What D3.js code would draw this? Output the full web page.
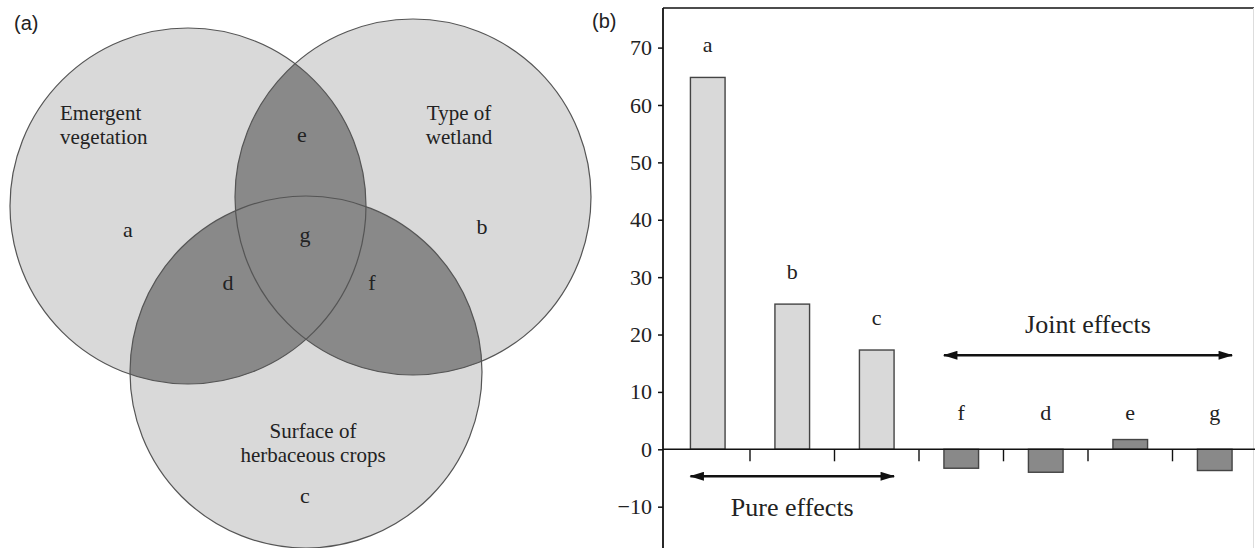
<!DOCTYPE html>
<html lang="en">
<head>
<meta charset="UTF-8">
<title>Variation partitioning</title>
<script src="https://d3js.org/d3.v7.min.js"></script>
<style>
  body { margin: 0; background: #fff; }
  svg { display: block; }
  text { font-family: "Liberation Serif", "Times New Roman", serif; fill: #222; }
</style>
</head>
<body>
<div id="chart"></div>
<script>
    const width = 1255;
    const height = 548;

    // panel (a): Venn sets and fraction labels
    const setNames = ["Emergent vegetation", "Type of wetland", "Surface of herbaceous crops"];
    const setLines = [["Emergent", "vegetation"], ["Type of", "wetland"], ["Surface of", "herbaceous crops"]];
    const fractionNames = ["a", "b", "c", "d", "e", "f", "g"];

    // panel (b): fractions of explained variation (%)
    const categories = ["a", "b", "c", "f", "d", "e", "g"];
    const values = [64.8, 25.3, 17.3, -3.3, -4.0, 1.7, -3.7];
    const groups = ["pure", "pure", "pure", "joint", "joint", "joint", "joint"];
    const yTicks = [-10, 0, 10, 20, 30, 40, 50, 60, 70];
    const groupLabels = ["Pure effects", "Joint effects"];

    const light = "#d9d9d9";
    const dark = "#898989";
    const edge = "#555";

    const svg = d3.select("#chart")
        .append("svg")
        .attr("width", width)
        .attr("height", height);

    const defs = svg.append("defs");
    defs.append("marker")
        .attr("id", "head")
        .attr("viewBox", "0 0 16 10")
        .attr("refX", 15)
        .attr("refY", 5)
        .attr("markerWidth", 16)
        .attr("markerHeight", 9)
        .attr("markerUnits", "userSpaceOnUse")
        .attr("orient", "auto-start-reverse")
        .append("path")
        .attr("d", "M0,0L16,5L0,10Z")
        .attr("fill", "#111");

    // ---------- (a) Venn diagram ----------
    const circles = [
        {cx: 188, cy: 206, r: 178},
        {cx: 413, cy: 197, r: 178},
        {cx: 306, cy: 372, r: 176}
    ];

    const venn = svg.append("g");

    circles.forEach((c, i) => {
        defs.append("clipPath").attr("id", "clip" + i)
            .append("circle").attr("cx", c.cx).attr("cy", c.cy).attr("r", c.r);
    });

    venn.selectAll("circle.base")
        .data(circles)
        .enter()
        .append("circle")
        .attr("class", "base")
        .attr("cx", d => d.cx)
        .attr("cy", d => d.cy)
        .attr("r", d => d.r)
        .attr("fill", light);

    const pairs = [[0, 1], [0, 2], [1, 2]];
    venn.selectAll("circle.overlap")
        .data(pairs)
        .enter()
        .append("circle")
        .attr("class", "overlap")
        .attr("cx", p => circles[p[0]].cx)
        .attr("cy", p => circles[p[0]].cy)
        .attr("r", p => circles[p[0]].r)
        .attr("clip-path", p => "url(#clip" + p[1] + ")")
        .attr("fill", dark);

    venn.selectAll("circle.edge")
        .data(circles)
        .enter()
        .append("circle")
        .attr("class", "edge")
        .attr("cx", d => d.cx)
        .attr("cy", d => d.cy)
        .attr("r", d => d.r)
        .attr("fill", "none")
        .attr("stroke", edge)
        .attr("stroke-width", 1.2);

    // set names, one text per line
    const nameSpots = [
        {x: 60, y: 120, anchor: "start"},
        {x: 459, y: 120, anchor: "middle"},
        {x: 313, y: 438, anchor: "middle"}
    ];
    const nameLines = [];
    setLines.forEach((lines, i) => lines.forEach((line, j) => nameLines.push({line, i, j})));
    venn.selectAll("text.setname")
        .data(nameLines)
        .enter()
        .append("text")
        .attr("class", "setname")
        .attr("x", d => nameSpots[d.i].x)
        .attr("y", d => nameSpots[d.i].y + d.j * 23.5)
        .attr("text-anchor", d => nameSpots[d.i].anchor)
        .style("font-size", "21px")
        .text(d => d.line);

    const fracSpots = {
        a: [128, 237], b: [482, 234], c: [305, 503], d: [228, 290],
        e: [302, 142], f: [372, 290], g: [305, 242]
    };
    venn.selectAll("text.frac")
        .data(fractionNames)
        .enter()
        .append("text")
        .attr("class", "frac")
        .attr("x", d => fracSpots[d][0])
        .attr("y", d => fracSpots[d][1])
        .attr("text-anchor", "middle")
        .style("font-size", "22px")
        .text(d => d);

    svg.append("text")
        .attr("x", 14)
        .attr("y", 30)
        .style("font-family", "'Liberation Sans', Arial, sans-serif")
        .style("font-size", "20px")
        .text("(a)");

    // ---------- (b) bar chart ----------
    const axisX = 663;
    const plotTop = 8;

    const x = d3.scaleBand()
        .domain(categories)
        .range([665.5, 1257])
        .padding(0);

    const y = d3.scaleLinear()
        .domain([-17.2, 76.9])
        .range([height, plotTop]);

    const barW = x.bandwidth() * 0.41;
    const bx = d => x(d) + (x.bandwidth() - barW) / 2;

    const chart = svg.append("g");

    // frame
    chart.append("line")
        .attr("x1", axisX).attr("x2", width - 1)
        .attr("y1", plotTop).attr("y2", plotTop)
        .attr("stroke", "#111").attr("stroke-width", 1.5);
    chart.append("line")
        .attr("x1", width - 1.5).attr("x2", width - 1.5)
        .attr("y1", plotTop).attr("y2", height)
        .attr("stroke", "#ddd").attr("stroke-width", 1);

    const rows = categories.map((c, i) => ({cat: c, v: values[i], group: groups[i]}));

    chart.selectAll("rect.bar")
        .data(rows)
        .enter()
        .append("rect")
        .attr("class", "bar")
        .attr("x", d => bx(d.cat))
        .attr("y", d => y(Math.max(0, d.v)))
        .attr("width", barW)
        .attr("height", d => Math.abs(y(d.v) - y(0)))
        .attr("fill", d => d.group === "pure" ? light : dark)
        .attr("stroke", "#444")
        .attr("stroke-width", 1.4);

    chart.selectAll("text.barlabel")
        .data(rows)
        .enter()
        .append("text")
        .attr("class", "barlabel")
        .attr("x", d => x(d.cat) + x.bandwidth() / 2)
        .attr("y", d => d.group === "pure" ? y(d.v) - 25 : y(0) - 29)
        .attr("text-anchor", "middle")
        .style("font-size", "22px")
        .text(d => d.cat);

    // y axis
    const yAxis = d3.axisLeft(y)
        .tickValues(yTicks)
        .tickSize(5)
        .tickPadding(6)
        .tickFormat(d => d < 0 ? "\u2212" + Math.abs(d) : d);
    const yg = chart.append("g")
        .attr("transform", `translate(${axisX},0)`)
        .call(yAxis);
    yg.select(".domain").remove();
    yg.selectAll("line").attr("stroke", "#111").attr("stroke-width", 1.5);
    yg.selectAll("text")
        .style("font-family", "'Liberation Serif', 'Times New Roman', serif")
        .style("font-size", "22px")
        .attr("fill", "#222");
    chart.append("line")
        .attr("x1", axisX).attr("x2", axisX)
        .attr("y1", plotTop).attr("y2", height)
        .attr("stroke", "#111").attr("stroke-width", 1.8);

    // x axis at zero, ticks between categories
    chart.append("line")
        .attr("x1", axisX).attr("x2", width)
        .attr("y1", y(0)).attr("y2", y(0))
        .attr("stroke", "#111").attr("stroke-width", 1.6);
    chart.selectAll("line.sep")
        .data(categories.slice(1))
        .enter()
        .append("line")
        .attr("class", "sep")
        .attr("x1", d => x(d)).attr("x2", d => x(d))
        .attr("y1", y(0)).attr("y2", y(0) + 12)
        .attr("stroke", "#111").attr("stroke-width", 1.4);

    // group arrows
    const pureCats = categories.filter((c, i) => groups[i] === "pure");
    const jointCats = categories.filter((c, i) => groups[i] === "joint");
    const spans = [
        {label: groupLabels[0], x0: bx(pureCats[0]), x1: bx(pureCats[pureCats.length - 1]) + barW,
         ay: y(0) + 27, ty: y(0) + 67},
        {label: groupLabels[1], x0: bx(jointCats[0]), x1: bx(jointCats[jointCats.length - 1]) + barW,
         ay: y(0) - 94, ty: y(0) - 116}
    ];
    chart.selectAll("line.arrow")
        .data(spans)
        .enter()
        .append("line")
        .attr("class", "arrow")
        .attr("x1", d => d.x0).attr("x2", d => d.x1)
        .attr("y1", d => d.ay).attr("y2", d => d.ay)
        .attr("stroke", "#111").attr("stroke-width", 2.5)
        .attr("marker-start", "url(#head)")
        .attr("marker-end", "url(#head)");
    chart.selectAll("text.grouplabel")
        .data(spans)
        .enter()
        .append("text")
        .attr("class", "grouplabel")
        .attr("x", d => (d.x0 + d.x1) / 2)
        .attr("y", d => d.ty)
        .attr("text-anchor", "middle")
        .style("font-size", "26px")
        .text(d => d.label);

    svg.append("text")
        .attr("x", 592)
        .attr("y", 28)
        .style("font-family", "'Liberation Sans', Arial, sans-serif")
        .style("font-size", "20px")
        .text("(b)");
</script>
</body>
</html>
